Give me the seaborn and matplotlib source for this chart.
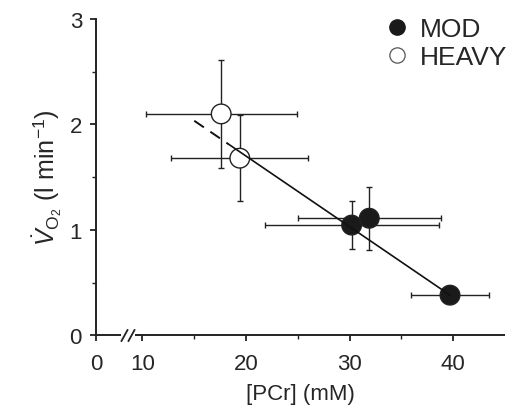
import numpy as np
import pandas as pd
import matplotlib
matplotlib.use("Agg")
import matplotlib.pyplot as plt
import seaborn as sns

# ------------------------
# Data
# ------------------------
mod_pcr = [30.2, 31.9, 39.7]
mod_pcr_sd = [8.4, 6.9, 3.8]
mod_vo2 = [1.045, 1.11, 0.38]
mod_vo2_sd = [0.23, 0.30, 0.05]

heavy_pcr = [17.6, 19.4]
heavy_pcr_sd = [7.3, 6.6]
heavy_vo2 = [2.10, 1.68]
heavy_vo2_sd = [0.51, 0.41]

fit_slope = -0.067
fit_intercept = 3.04
fit_solid = [18.3, 39.7]
fit_dashed = [15.0, 18.3]

x_ticks = [0, 10, 20, 30, 40]
x_minor = [15, 25, 35]
y_ticks = [0, 1, 2, 3]
y_minor = [0.5, 1.5, 2.5]

# ------------------------
# Style
# ------------------------
sns.set_style("ticks")
plt.rcParams["font.family"] = ["Liberation Sans", "DejaVu Sans"]
plt.rcParams["mathtext.fontset"] = "custom"
plt.rcParams["mathtext.rm"] = "Liberation Sans"
plt.rcParams["mathtext.it"] = "Liberation Sans:italic"

df = pd.DataFrame({
    "pcr": mod_pcr + heavy_pcr,
    "vo2": mod_vo2 + heavy_vo2,
    "pcr_sd": mod_pcr_sd + heavy_pcr_sd,
    "vo2_sd": mod_vo2_sd + heavy_vo2_sd,
    "group": ["MOD"] * len(mod_pcr) + ["HEAVY"] * len(heavy_pcr),
})

# broken x axis: 0-10 squeezed
def fwd(x):
    x = np.asarray(x, dtype=float)
    return np.where(x <= 10, x * 0.45, x - 5.5)

def inv(x):
    x = np.asarray(x, dtype=float)
    return np.where(x <= 4.5, x / 0.45, x + 5.5)

fig = plt.figure(figsize=(5.1, 4.1), dpi=100)
ax = fig.add_axes([0.188, 0.180, 0.802, 0.771])
ax.set_xscale("function", functions=(fwd, inv))

# error bars
ax.errorbar(df["pcr"], df["vo2"], xerr=df["pcr_sd"], yerr=df["vo2_sd"],
            fmt="none", ecolor="#222222", elinewidth=1.0, capsize=2.5,
            capthick=1.0, zorder=2)

# points
sns.scatterplot(data=df, x="pcr", y="vo2", hue="group",
                palette={"MOD": "#1a1a1a", "HEAVY": "white"},
                s=200, edgecolor="#222222", linewidth=1.0,
                legend=False, zorder=3, ax=ax)

# regression line (solid + dashed extrapolation)
xs = np.array(fit_solid)
sns.lineplot(x=xs, y=fit_intercept + fit_slope * xs, color="#111111",
             linewidth=1.2, ax=ax, zorder=4)
xd = np.array(fit_dashed)
ax.plot(xd, fit_intercept + fit_slope * xd, color="#111111",
        linewidth=1.4, linestyle=(0, (6, 4)), zorder=4)

ax.set_xlim(0, 45)
ax.set_ylim(0, 3)
ax.set_xticks(x_ticks)
ax.set_xticklabels([str(t) for t in x_ticks])
ax.set_xticks(x_minor, minor=True)
ax.set_yticks(y_ticks)
ax.set_yticks(y_minor, minor=True)

sns.despine(ax=ax)
ax.spines["bottom"].set_visible(False)
ax.spines["left"].set_linewidth(1.4)
ax.spines["left"].set_color("#222222")

# bottom spine with break
xt = ax.get_xaxis_transform()
ax.plot([0, 5.4], [0, 0], color="#222222", lw=1.4, transform=xt,
        clip_on=False, zorder=5, solid_capstyle="butt")
ax.plot([8.3, 45], [0, 0], color="#222222", lw=1.4, transform=xt,
        clip_on=False, zorder=5, solid_capstyle="butt")
slash = [(-0.55, -1), (0.55, 1)]
ax.plot([6.0, 7.6], [0, 0], marker=slash, markersize=9, linestyle="none",
        color="#222222", mew=1.3, transform=xt, clip_on=False, zorder=5)

ax.tick_params(axis="both", which="major", length=4, width=1.3,
               color="#222222", labelsize=16, pad=6)
ax.tick_params(axis="x", which="major", pad=9)
ax.tick_params(axis="both", which="minor", length=3, width=1.0,
               color="#222222")

ax.set_xlabel("[PCr] (mM)", fontsize=16, labelpad=6)
ax.set_ylabel(r"$\dot{V}_{\mathrm{O}_2}$ (l min$^{-1}$)", fontsize=18,
              labelpad=4)

# legend
handles = [
    plt.Line2D([], [], marker="o", linestyle="none", markersize=11,
               markerfacecolor="#1a1a1a", markeredgecolor="#1a1a1a",
               label="MOD"),
    plt.Line2D([], [], marker="o", linestyle="none", markersize=11,
               markerfacecolor="white", markeredgecolor="#555555",
               markeredgewidth=0.9, label="HEAVY"),
]
fig.legend(handles=handles, loc="upper right", bbox_to_anchor=(1.03, 1.0),
           frameon=False, fontsize=19, handlelength=1.0, handletextpad=0.35,
           labelspacing=0.15, borderaxespad=0.3)

fig.savefig("out.png", dpi=100)
